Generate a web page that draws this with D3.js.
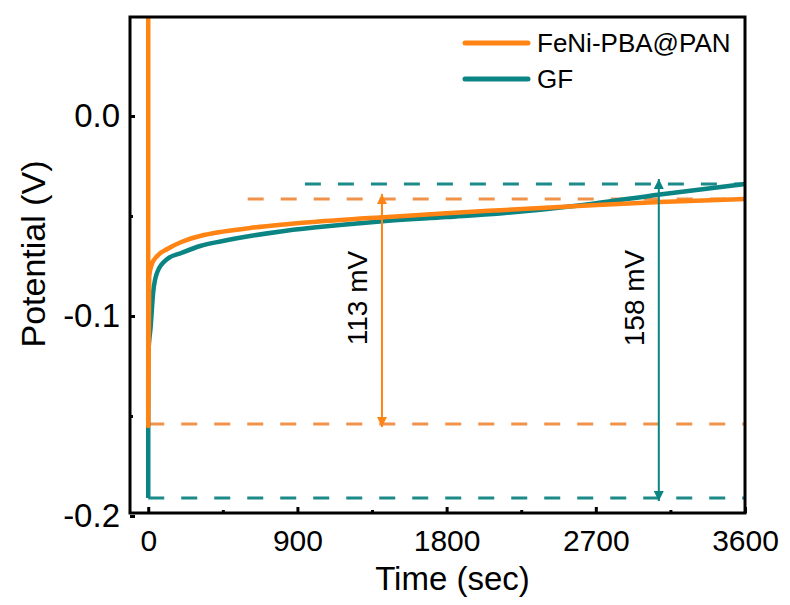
<!DOCTYPE html>
<html>
<head>
<meta charset="utf-8">
<script src="https://cdn.jsdelivr.net/npm/d3@7"></script>
<style>
  body { margin: 0; background: #fff; }
  text { font-family: Arial, "Liberation Sans", sans-serif; fill: #000; }
</style>
</head>
<body>
<script>
// ---- data ----
var seriesNames = ["FeNi-PBA@PAN", "GF"];
var seriesColors = ["#ff8413", "#0b8484"];
var dashColors = ["#f0924a", "#1b8a88"];

// time (sec), potential (V)
var gfTime =  [0, 0, 15, 30, 55, 115, 200, 313, 450, 615, 800, 1000, 1398, 1800, 2122, 2622, 3086, 3600];
var gfV =     [-0.191, -0.12, -0.105, -0.088, -0.078, -0.0715, -0.0685, -0.065, -0.0625, -0.0600, -0.0577, -0.0558, -0.0527, -0.0505, -0.0487, -0.0445, -0.0392, -0.034];
var fenTime = [0, 0, 6, 20, 54, 115, 200, 313, 450, 615, 800, 1000, 1398, 1800, 2122, 2622, 3086, 3600];
var fenV =    [0.06, -0.155, -0.080, -0.0745, -0.070, -0.0665, -0.063, -0.060, -0.0578, -0.0560, -0.0544, -0.0530, -0.0507, -0.0486, -0.0471, -0.0449, -0.0430, -0.0415];

// reference dashed levels
var dashLevels = [
  {s: 0, t0: 600, v: -0.0415},
  {s: 1, t0: 945, v: -0.034},
  {s: 0, t0: 0, v: -0.154},
  {s: 1, t0: 0, v: -0.191}
];

// overpotential arrows
var arrowT = [1410, 3080];
var arrowTop = [-0.0415, -0.034];
var arrowBottom = [-0.154, -0.191];
var arrowLabels = ["113 mV", "158 mV"];

var xTicks = [0, 900, 1800, 2700, 3600];
var xMinor = [450, 1350, 2250, 3150];
var yTicks = [0.0, -0.1, -0.2];
var yMinor = [-0.05, -0.15];

// ---- setup ----
var W = 790, H = 605;
var margin = {top: 17, right: 45, bottom: 92, left: 130},
    width = W - margin.left - margin.right,
    height = H - margin.top - margin.bottom;

var x = d3.scaleLinear().domain([-110, 3600]).range([0, width]);
var y = d3.scaleLinear().domain([-0.1985, 0.0495]).range([height, 0]);

var svg = d3.select("body").append("svg")
    .attr("width", W)
    .attr("height", H);

var defs = svg.append("defs");
defs.append("clipPath").attr("id", "clip")
  .append("rect").attr("width", width).attr("height", height);

seriesColors.forEach(function(c, i) {
  defs.append("marker")
      .attr("id", "arrow" + i)
      .attr("viewBox", "0 0 10 10")
      .attr("refX", 10).attr("refY", 5)
      .attr("markerUnits", "userSpaceOnUse")
      .attr("markerWidth", 12).attr("markerHeight", 10)
      .attr("orient", "auto-start-reverse")
    .append("path")
      .attr("d", "M0,0 L10,5 L0,10 Z")
      .attr("fill", c);
});

var g = svg.append("g")
    .attr("transform", "translate(" + margin.left + "," + margin.top + ")");

var plot = g.append("g").attr("clip-path", "url(#clip)");

// dashed reference lines
plot.selectAll(".ref")
  .data(dashLevels)
  .enter().append("line")
    .attr("class", "ref")
    .attr("x1", function(d) { return x(d.t0); })
    .attr("x2", x(3600))
    .attr("y1", function(d) { return y(d.v); })
    .attr("y2", function(d) { return y(d.v); })
    .attr("stroke", function(d) { return dashColors[d.s]; })
    .attr("stroke-width", 3)
    .attr("stroke-dasharray", "16,17");

// curves
var line = d3.line()
    .x(function(d) { return x(d[0]); })
    .y(function(d) { return y(d[1]); })
    .curve(d3.curveMonotoneX);

var gfData = gfTime.map(function(t, i) { return [t, gfV[i]]; });
var fenData = fenTime.map(function(t, i) { return [t, fenV[i]]; });

plot.append("path")
    .datum(gfData)
    .attr("fill", "none")
    .attr("stroke", seriesColors[1])
    .attr("stroke-width", 4.5)
    .attr("stroke-linejoin", "round")
    .attr("d", line);

plot.append("path")
    .datum(fenData)
    .attr("fill", "none")
    .attr("stroke", seriesColors[0])
    .attr("stroke-width", 4.5)
    .attr("stroke-linejoin", "round")
    .attr("d", line);

// arrows + labels
arrowT.forEach(function(t, i) {
  g.append("line")
      .attr("x1", x(t)).attr("x2", x(t))
      .attr("y1", y(arrowTop[i]) - 5)
      .attr("y2", y(arrowBottom[i]) + 3)
      .attr("stroke", seriesColors[i])
      .attr("stroke-width", 2)
      .attr("marker-start", "url(#arrow" + i + ")")
      .attr("marker-end", "url(#arrow" + i + ")");

  g.append("text")
      .attr("transform", "translate(" + (x(t) - 15) + "," + (298 - margin.top) + ") rotate(-90)")
      .attr("text-anchor", "middle")
      .style("font-size", "28px")
      .text(arrowLabels[i]);
});

// axes (ticks point inward)
var xAxis = g.append("g")
    .attr("transform", "translate(0," + height + ")")
    .call(d3.axisBottom(x).tickValues(xTicks).tickSize(-6).tickPadding(17)
        .tickFormat(d3.format("d")));
xAxis.selectAll("text").style("font-size", "30px");

g.append("g")
    .attr("transform", "translate(0," + height + ")")
    .call(d3.axisBottom(x).tickValues(xMinor).tickSize(-3).tickFormat(""));

var yAxis = g.append("g")
    .call(d3.axisLeft(y).tickValues(yTicks).tickSize(-5).tickPadding(10)
        .tickFormat(function(d) { return d.toFixed(1).replace("\u2212", "-"); }));
yAxis.selectAll("text").style("font-size", "33px");

g.append("g")
    .call(d3.axisLeft(y).tickValues(yMinor).tickSize(-3).tickFormat(""));

g.selectAll(".domain").remove();
g.selectAll(".tick line").attr("stroke", "#000").attr("stroke-width", 3);

// frame
g.append("rect")
    .attr("width", width)
    .attr("height", height)
    .attr("fill", "none")
    .attr("stroke", "#000")
    .attr("stroke-width", 3);

// axis titles
svg.append("text")
    .attr("x", margin.left + width / 2 + 15)
    .attr("y", 590)
    .attr("text-anchor", "middle")
    .style("font-size", "33px")
    .text("Time (sec)");

svg.append("text")
    .attr("transform", "translate(45,254) rotate(-90)")
    .attr("text-anchor", "middle")
    .style("font-size", "34px")
    .text("Potential (V)");

// legend
var legend = svg.append("g").attr("transform", "translate(465,43)");
seriesNames.forEach(function(name, i) {
  var row = legend.append("g").attr("transform", "translate(0," + (i * 36) + ")");
  row.append("line")
      .attr("x1", 0).attr("x2", 63)
      .attr("stroke", seriesColors[i])
      .attr("stroke-width", 5)
      .attr("stroke-linecap", "round");
  row.append("text")
      .attr("x", 72)
      .attr("dy", "0.35em")
      .style("font-size", "26px")
      .text(name);
});
</script>
</body>
</html>
